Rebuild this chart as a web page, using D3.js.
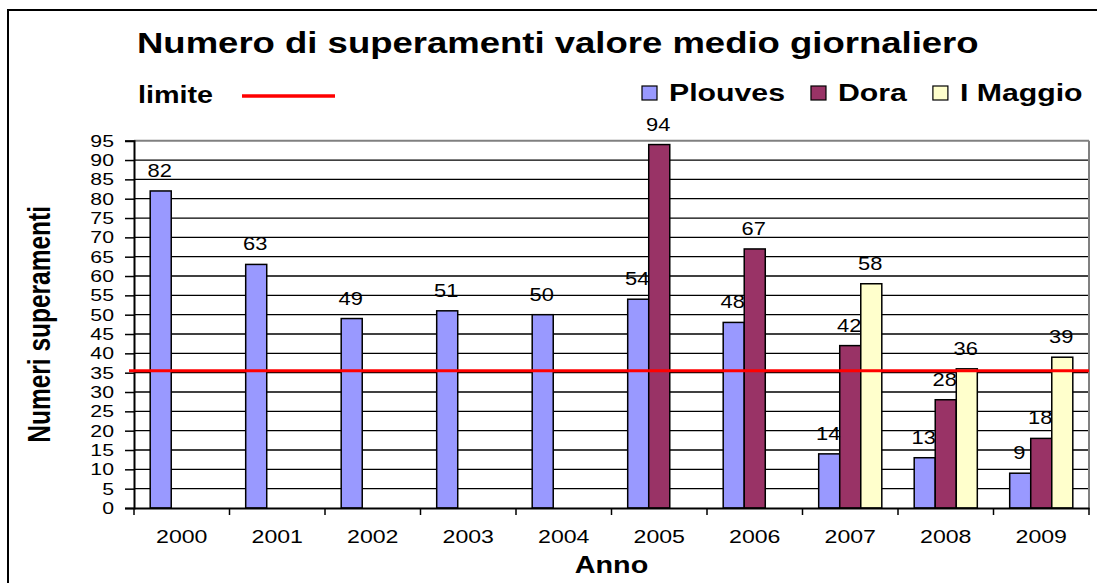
<!DOCTYPE html>
<html>
<head>
<meta charset="utf-8">
<script src="https://cdn.jsdelivr.net/npm/d3@7"></script>
<style>
body { margin: 0; background: #fff; }
text { font-family: "Liberation Sans", Arial, sans-serif; }
</style>
</head>
<body>
<svg></svg>
<script>
// data
var years = ["2000","2001","2002","2003","2004","2005","2006","2007","2008","2009"];
var plouves = [82, 63, 49, 51, 50, 54, 48, 14, 13, 9];
var dora = [null, null, null, null, null, 94, 67, 42, 28, 18];
var maggio = [null, null, null, null, null, null, null, 58, 36, 39];
var seriesNames = ["Plouves", "Dora", "I Maggio"];
var seriesColors = ["#9999FF", "#993366", "#FFFFCC"];
var yTicks = d3.range(0, 100, 5);
var limite = 35.5;

var svgWidth = 1097, svgHeight = 583;
var sx = 1.25; // the original picture is stretched sideways, so is the text

var svg = d3.select("svg")
    .attr("width", svgWidth)
    .attr("height", svgHeight);

// outer frame
svg.append("rect")
    .attr("x", 8).attr("y", 10)
    .attr("width", 1200).attr("height", 700)
    .attr("fill", "none")
    .attr("stroke", "#000")
    .attr("stroke-width", 2);

var plotLeft = 134, plotRight = 1089, plotTop = 140.7, plotBottom = 508;

var x0 = d3.scaleBand()
    .domain(years)
    .range([plotLeft, plotRight]);

var x1 = d3.scaleBand()
    .domain(seriesNames)
    .range([0, x0.bandwidth()])
    .paddingOuter(0.77);

var y = d3.scaleLinear()
    .domain([0, 95])
    .range([plotBottom, plotTop]);

// grid lines
svg.append("g")
    .selectAll("line")
    .data(yTicks.slice(1))
    .enter()
    .append("line")
    .attr("x1", plotLeft).attr("x2", plotRight)
    .attr("y1", function(d){ return y(d); })
    .attr("y2", function(d){ return y(d); })
    .attr("stroke", function(d){ return d == 95 ? "#808080" : "#000"; })
    .attr("stroke-width", function(d){ return d == 95 ? 2 : 1.3; });

// right border of plot
svg.append("line")
    .attr("x1", plotRight).attr("x2", plotRight)
    .attr("y1", y(95)).attr("y2", y(0))
    .attr("stroke", "#808080")
    .attr("stroke-width", 2);

// bars
var rows = years.map(function(yr, i){
    return [plouves[i], dora[i], maggio[i]].map(function(v, j){
        return {year: yr, name: seriesNames[j], color: seriesColors[j], value: v};
    }).filter(function(d){ return d.value != null; });
});

var groups = svg.append("g")
    .selectAll("g")
    .data(rows)
    .enter()
    .append("g")
    .attr("transform", function(d, i){ return "translate(" + x0(years[i]) + ",0)"; });

groups.selectAll("rect")
    .data(function(d){ return d; })
    .enter()
    .append("rect")
    .attr("x", function(d){ return x1(d.name); })
    .attr("y", function(d){ return y(d.value); })
    .attr("width", x1.bandwidth())
    .attr("height", function(d){ return y(0) - y(d.value); })
    .attr("fill", function(d){ return d.color; })
    .attr("stroke", "#000")
    .attr("stroke-width", 1.5);

groups.selectAll("text")
    .data(function(d){ return d; })
    .enter()
    .append("text")
    .text(function(d){ return d.value; })
    .attr("transform", function(d){
        return "translate(" + (x1(d.name) + x1.bandwidth() / 2 - 1) + "," + (y(d.value) - 14) + ") scale(" + sx + ",1)";
    })
    .attr("text-anchor", "middle")
    .attr("font-size", 17.5)
    .attr("fill", "#000");

// y axis
var yAxis = svg.append("g")
    .attr("transform", "translate(" + plotLeft + ",0)")
    .call(d3.axisLeft(y).tickValues(yTicks).tickSize(9).tickPadding(11));
yAxis.select(".domain").attr("stroke", "#000").attr("stroke-width", 2);
yAxis.selectAll(".tick line").attr("stroke", "#000").attr("stroke-width", 1.5);
yAxis.selectAll(".tick text")
    .attr("font-size", 17)
    .attr("font-family", null)
    .attr("fill", "#000")
    .attr("x", -20 / sx)
    .attr("transform", "scale(" + sx + ",1)");

// x axis
var xAxis = svg.append("g")
    .attr("transform", "translate(0," + plotBottom + ")")
    .call(d3.axisBottom(x0).tickSize(0).tickPadding(22));
xAxis.select(".domain").attr("stroke", "#000").attr("stroke-width", 2);
xAxis.selectAll(".tick text")
    .attr("font-size", 18.5)
    .attr("font-family", null)
    .attr("fill", "#000")
    .attr("transform", "scale(" + sx + ",1)");

svg.append("g")
    .selectAll("line")
    .data(years.concat(["end"]))
    .enter()
    .append("line")
    .attr("x1", function(d){ return d == "end" ? plotRight : x0(d); })
    .attr("x2", function(d){ return d == "end" ? plotRight : x0(d); })
    .attr("y1", plotBottom).attr("y2", plotBottom + 7)
    .attr("stroke", "#000")
    .attr("stroke-width", 1.5);

// limit line
svg.append("line")
    .attr("x1", plotLeft - 5).attr("x2", plotRight)
    .attr("y1", y(limite)).attr("y2", y(limite))
    .attr("stroke", "#FF0000")
    .attr("stroke-width", 3);

// titles
svg.append("text")
    .text("Numero di superamenti valore medio giornaliero")
    .attr("transform", "translate(137,53) scale(" + sx + ",1)")
    .attr("font-size", 29.2)
    .attr("font-weight", "bold");

svg.append("text")
    .text("Anno")
    .attr("transform", "translate(" + ((plotLeft + plotRight) / 2) + ",573) scale(" + sx + ",1)")
    .attr("text-anchor", "middle")
    .attr("font-size", 23)
    .attr("font-weight", "bold");

svg.append("text")
    .text("Numeri superamenti")
    .attr("transform", "translate(50," + ((plotTop + plotBottom) / 2) + ") scale(" + sx + ",1) rotate(-90)")
    .attr("text-anchor", "middle")
    .attr("font-size", 24.5)
    .attr("font-weight", "bold");

// legend: limit
svg.append("text")
    .text("limite")
    .attr("transform", "translate(138,103) scale(" + sx + ",1)")
    .attr("font-size", 23)
    .attr("font-weight", "bold");

svg.append("line")
    .attr("x1", 242).attr("x2", 335)
    .attr("y1", 96).attr("y2", 96)
    .attr("stroke", "#FF0000")
    .attr("stroke-width", 3.5);

// legend: series
var lx = 642;
seriesNames.forEach(function(name, i){
    svg.append("rect")
        .attr("x", lx).attr("y", 86)
        .attr("width", 15).attr("height", 14)
        .attr("fill", seriesColors[i])
        .attr("stroke", "#000")
        .attr("stroke-width", 1.2);
    var t = svg.append("text")
        .text(name)
        .attr("transform", "translate(" + (lx + 27) + ",101) scale(" + (sx * 1.03) + ",1)")
        .attr("font-size", 23.5)
        .attr("font-weight", "bold");
    lx = lx + 27 + t.node().getComputedTextLength() * sx * 1.03 + 26;
});
</script>
</body>
</html>
